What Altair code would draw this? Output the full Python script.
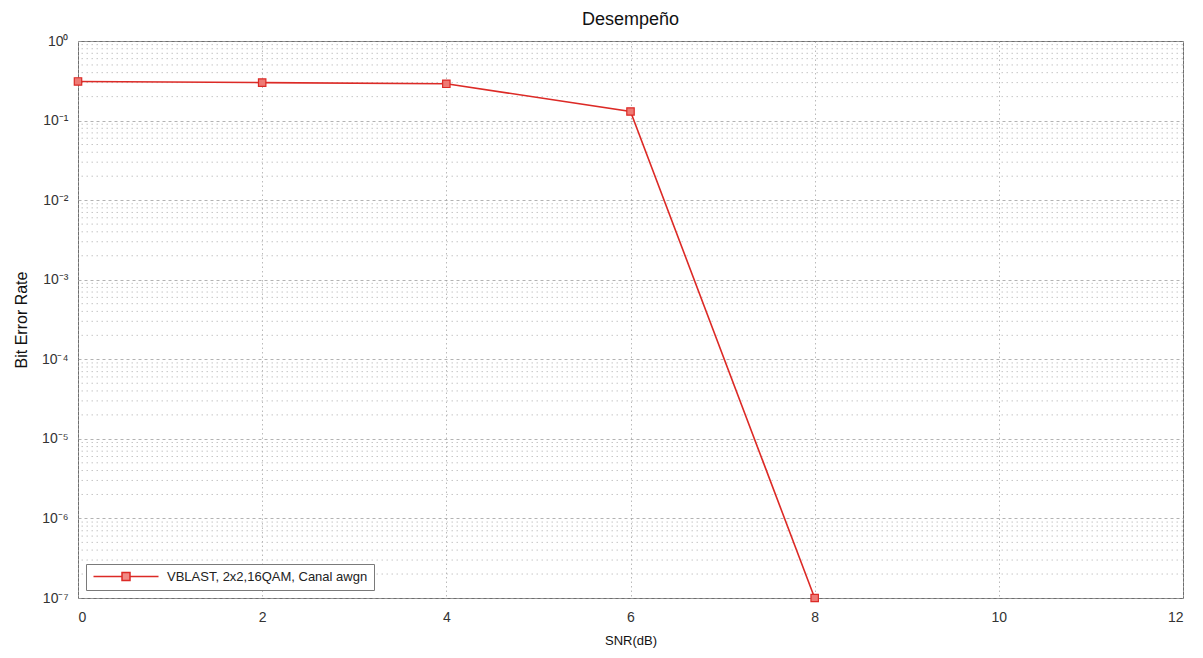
import altair as alt
import pandas as pd

# ---- data ----
snr = [0, 2, 4, 6, 8]
ber = [0.31, 0.30, 0.29, 0.13, 1e-7]
series_name = "VBLAST, 2x2,16QAM, Canal awgn"

x_ticks = [0, 2, 4, 6, 8, 10, 12]
y_decades = [1, 1e-1, 1e-2, 1e-3, 1e-4, 1e-5, 1e-6, 1e-7]
y_labels = ["10⁰", "10⁻¹", "10⁻²", "10⁻³", "10⁻⁴", "10⁻⁵", "10⁻⁶", "10⁻⁷"]
minor_mult = [2, 3, 4, 5, 6, 7, 8, 9]
minor_exp = [-7, -6, -5, -4, -3, -2, -1]

df = pd.DataFrame({"snr": snr, "ber": ber, "serie": [series_name] * len(snr)})
minor_vals = [m * 10.0 ** e for e in minor_exp for m in minor_mult]
minor_df = pd.DataFrame({"v": minor_vals})

label_expr = "[" + ",".join("'" + s + "'" for s in y_labels) + "][round(-log(datum.value)/LN10)]"

FONT = "Liberation Sans"
RED = "#dc2a26"

xscale = alt.Scale(domain=[0, 12], nice=False, zero=False)
yscale = alt.Scale(type="log", domain=[1e-7, 1], nice=False)

minor_grid = alt.Chart(minor_df).mark_rule(
    color="#b8b8b8", strokeWidth=0.8, strokeDash=[1.5, 3.5]
).encode(y=alt.Y("v:Q", scale=yscale))

legend_symbol = (
    "M-1,0 L4.7,0 M6.3,0 L12,0 "
    "M4.7,-0.8 L6.3,-0.8 L6.3,0.8 L4.7,0.8 Z"
)

line = alt.Chart(df).mark_line(strokeWidth=1.6).encode(
    x=alt.X(
        "snr:Q",
        scale=xscale,
        title="SNR(dB)",
        axis=alt.Axis(
            values=x_ticks,
            format="d",
            grid=True,
            gridColor="#a8a8a8",
            gridDash=[1.5, 3],
            gridWidth=0.8,
            ticks=False,
            domain=False,
            labelPadding=12,
            labelFontSize=14,
            titlePadding=10,
            titleFontSize=13,
        ),
    ),
    y=alt.Y(
        "ber:Q",
        scale=yscale,
        title="Bit Error Rate",
        axis=alt.Axis(
            values=y_decades,
            labelExpr=label_expr,
            grid=True,
            gridColor="#a0a0a0",
            gridDash=[3, 3],
            gridWidth=0.8,
            ticks=False,
            domain=False,
            labelPadding=10,
            labelFontSize=14,
            titlePadding=12,
            titleFontSize=16,
        ),
    ),
    color=alt.Color(
        "serie:N",
        scale=alt.Scale(range=[RED]),
        legend=alt.Legend(
            title=None,
            orient="bottom-left",
            offset=8,
            fillColor="white",
            strokeColor="#7a7a7a",
            padding=6,
            labelFontSize=13,
            labelFont=FONT,
            labelColor="#222222",
            labelLimit=400,
            symbolType=legend_symbol,
            symbolSize=100,
            symbolStrokeWidth=1.5,
            symbolStrokeColor=RED,
            symbolFillColor="#f08a85",
            labelOffset=62,
        ),
    ),
)

points = alt.Chart(df).mark_square(
    size=55, filled=True, color="#ee7a74", stroke=RED, strokeWidth=1.2, opacity=1
).encode(
    x=alt.X("snr:Q", scale=xscale),
    y=alt.Y("ber:Q", scale=yscale),
)

chart = alt.layer(minor_grid, line, points).properties(
    width=1105,
    height=557,
    title=alt.TitleParams("Desempeño", fontSize=18, fontWeight="normal", font=FONT, color="#111111", offset=5),
    autosize=alt.AutoSizeParams(type="none"),
    padding={"left": 70, "top": 33, "right": 12, "bottom": 52},
).configure_view(
    stroke="#6e6e6e", strokeWidth=1
).configure_axis(
    labelFont=FONT, titleFont=FONT, labelFontSize=13, labelColor="#333333",
    titleColor="#111111", titleFontWeight="normal"
)

chart.save("out.html", embed_options={"renderer": "svg", "actions": False})
